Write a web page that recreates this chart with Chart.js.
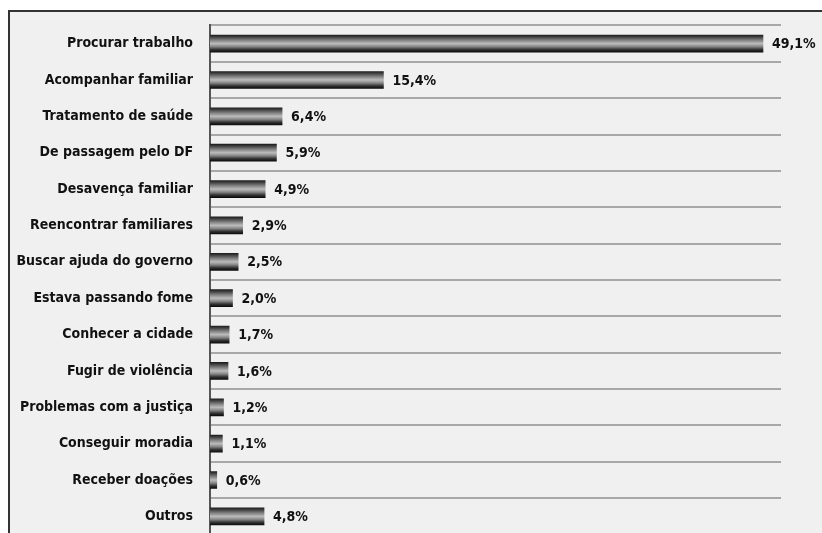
<!DOCTYPE html>
<html>
<head>
<meta charset="utf-8">
<script src="https://cdn.jsdelivr.net/npm/chart.js@4/dist/chart.umd.min.js"></script>
<style>
    body { margin: 0; background: #fff; overflow: hidden; }
    #frame {
        position: absolute; left: 8px; top: 10px; width: 900px; height: 600px;
        border: 2px solid #333; background: #f0f0f0;
    }
    #wrap { position: absolute; left: 0; top: 0; width: 822px; height: 533px; overflow: hidden; }
</style>
</head>
<body>
<div id="frame"></div>
<div id="wrap"><canvas id="reasonsChart" width="822" height="560"></canvas></div>
<script>
const reasons = [
    "Procurar trabalho",
    "Acompanhar familiar",
    "Tratamento de saúde",
    "De passagem pelo DF",
    "Desavença familiar",
    "Reencontrar familiares",
    "Buscar ajuda do governo",
    "Estava passando fome",
    "Conhecer a cidade",
    "Fugir de violência",
    "Problemas com a justiça",
    "Conseguir moradia",
    "Receber doações",
    "Outros"
];
const percents = [49.1, 15.4, 6.4, 5.9, 4.9, 2.9, 2.5, 2.0, 1.7, 1.6, 1.2, 1.1, 0.6, 4.8];

const FONT = "'Liberation Sans Narrow', 'DejaVu Sans Condensed', sans-serif";
const BAR_H = 17;

function barFill(ctx) {
    const chart = ctx.chart;
    const y = chart.scales.y;
    if (!y || !chart.chartArea) return "#888";
    const c = y.getPixelForValue(ctx.dataIndex);
    const g = chart.ctx.createLinearGradient(0, c - BAR_H / 2, 0, c + BAR_H / 2);
    g.addColorStop(0, "#1e1e1e");
    g.addColorStop(0.12, "#444");
    g.addColorStop(0.3, "#808080");
    g.addColorStop(0.5, "#bcbcbc");
    g.addColorStop(0.68, "#858585");
    g.addColorStop(0.85, "#333");
    g.addColorStop(1, "#0c0c0c");
    return g;
}

// percent text right after each bar
const valueLabels = {
    id: "valueLabels",
    afterDatasetsDraw(chart) {
        const ctx = chart.ctx;
        const meta = chart.getDatasetMeta(0);
        ctx.save();
        ctx.font = "bold 14px " + FONT;
        ctx.fillStyle = "#111";
        ctx.textBaseline = "middle";
        meta.data.forEach((bar, i) => {
            const txt = percents[i].toFixed(1).replace(".", ",") + "%";
            ctx.fillText(txt, bar.x + 9, bar.y + 1);
        });
        ctx.restore();
    }
};

new Chart(document.getElementById("reasonsChart"), {
    type: "bar",
    data: {
        labels: reasons,
        datasets: [{
            data: percents,
            backgroundColor: barFill,
            borderWidth: 0,
            barThickness: BAR_H
        }]
    },
    options: {
        indexAxis: "y",
        responsive: false,
        animation: false,
        layout: { padding: { top: 24, right: 41, bottom: 0, left: 0 } },
        plugins: { legend: { display: false }, tooltip: { enabled: false } },
        scales: {
            x: { display: false, min: 0, max: 50.7 },
            y: {
                afterFit(scale) { scale.width = 210; },
                grid: {
                    offset: true,
                    drawTicks: false,
                    color: "#a8a8a8",
                    lineWidth: 2
                },
                border: { display: true, color: "#555", width: 2 },
                ticks: {
                    padding: 17,
                    color: "#111",
                    font: { family: FONT, size: 14, weight: "bold" }
                }
            }
        }
    },
    plugins: [valueLabels]
});
</script>
</body>
</html>
